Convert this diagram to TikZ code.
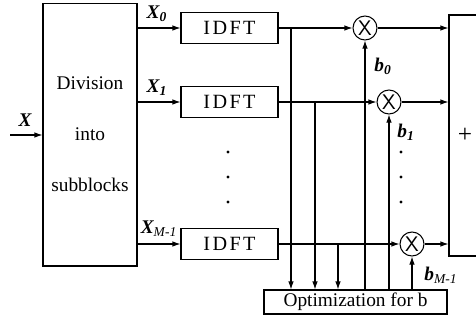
\documentclass[tikz,border=0pt]{standalone}
\usepackage{fontspec}
\setmainfont{Liberation Serif}
\usetikzlibrary{arrows.meta}

\begin{document}
\begin{tikzpicture}[
    x=0.02cm, y=-0.02cm, % one unit per pixel, y pointing down
    font=\fontsize{11}{13}\selectfont,
    line width=0.6pt,
    >={Latex[length=1.6mm,width=1.1mm]},
    block/.style={draw, rectangle, inner sep=0pt},
    idft/.style={block, minimum width=1.94cm, minimum height=0.62cm, font=\fontsize{11.5}{13}\selectfont\addfontfeature{LetterSpace=12}},
    mult/.style={draw, circle, minimum size=0.48cm, inner sep=0pt, font=\fontsize{12}{12}\sffamily},
    sig/.style={font=\fontsize{11}{12}\selectfont\bfseries\itshape},
    dot/.style={fill, radius=0.9pt}
]
\useasboundingbox (0,0) rectangle (476,335);

% Splitter
\node[block, minimum width=1.88cm, minimum height=5.26cm, align=center] (div) at (90,134.5)
    {Division\\[16pt]into\\[16pt]subblocks};

% IDFT branches
\node[idft] (idft0) at (229.5,28) {IDFT};
\node[idft] (idft1) at (229.5,102) {IDFT};
\node[idft] (idft2) at (229.5,244) {IDFT};

% Multipliers
\node[mult] (m0) at (365,28) {X};
\node[mult] (m1) at (389,102) {X};
\node[mult] (m2) at (412,244) {X};

% Summation
\node[block, minimum width=0.64cm, minimum height=4.82cm] (sum) at (465,135.5) {\Large +};

% Phase optimizer
\node[block, minimum width=3.66cm, minimum height=0.48cm] (opt) at (355.5,302) {Optimization for b};

% Input
\coordinate (in) at (10,135);
\draw[->] (in) -- (in -| div.west);
\node[sig] (xin) at (25,120) {X};

% Subblock outputs
\draw[->] (div.east |- idft0) -- (idft0.west);
\draw[->] (div.east |- idft1) -- (idft1.west);
\draw[->] (div.east |- idft2) -- (idft2.west);
\node[sig] (x0) at (157,14) {X\textsubscript{0}};
\node[sig] (x1) at (157,88) {X\textsubscript{1}};
\node[sig] (x2) at (159,229) {X\textsubscript{\mdseries M-1}};

% Into the multipliers and on to the sum
\draw[->] (idft0.east) -- (m0.west);
\draw[->] (idft1.east) -- (m1.west);
\draw[->] (idft2.east) -- (m2.west);
\draw[->] (m0.east) -- (m0 -| sum.west);
\draw[->] (m1.east) -- (m1 -| sum.west);
\draw[->] (m2.east) -- (m2 -| sum.west);

% Taps to the optimizer
\coordinate (t0) at (291,28);
\coordinate (t1) at (315,102);
\coordinate (t2) at (338,244);
\foreach \t in {t0,t1,t2}
    \draw[->] (\t) -- (\t |- opt.north);

% Weights back to the multipliers
\draw[->] (m0 |- opt.north) -- (m0.south);
\draw[->] (m1 |- opt.north) -- (m1.south);
\draw[->] (m2 |- opt.north) -- (m2.south);
\node[sig] (b0) at (383,66) {b\textsubscript{0}};
\node[sig] (b1) at (406,132) {b\textsubscript{1}};
\node[sig] (b2) at (441,275) {b\textsubscript{\mdseries M-1}};

% Ellipsis dots
\foreach \y in {152,177,202} {
    \fill[dot] (228,\y) circle;
    \fill[dot] (401,\y) circle;
}

\end{tikzpicture}
\end{document}
